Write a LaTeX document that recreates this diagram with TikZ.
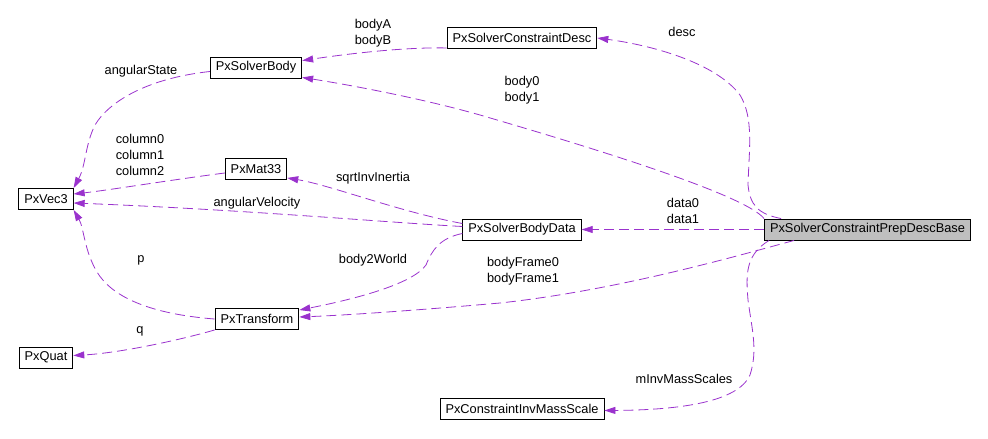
\documentclass[tikz,border=0pt]{standalone}
\usepackage{fontspec}
\setmainfont{Liberation Sans}
\usepackage{xcolor}
\usepackage{tikz}
\usetikzlibrary{arrows.meta}
\definecolor{relcol}{HTML}{9A32CD}

\begin{document}
\begin{tikzpicture}[x=1pt,y=-1pt,font=\fontsize{12.8}{16}\selectfont,
  cls/.style={draw,line width=0.9pt,rectangle,minimum height=21pt,inner xsep=5.5pt,inner ysep=0pt},
  rel/.style={relcol,line width=0.8pt,dash pattern=on 10pt off 5pt,-{Triangle[length=11pt,width=7pt]}},
  lbl/.style={align=center,inner sep=0pt}]

\useasboundingbox (0,0) rectangle (988,439);

% classes
\node[cls,fill=black!25] (base) at (867.5,229.5) {PxSolverConstraintPrepDescBase};
\node[cls] (cdesc) at (522,38) {PxSolverConstraintDesc};
\node[cls] (sbody) at (256,67.5) {PxSolverBody};
\node[cls] (vec) at (46,199) {PxVec3};
\node[cls] (mat) at (256,169) {PxMat33};
\node[cls] (sbd) at (522,229.5) {PxSolverBodyData};
\node[cls] (tr) at (257,319) {PxTransform};
\node[cls] (quat) at (46,357.5) {PxQuat};
\node[cls] (cims) at (522,408.5) {PxConstraintInvMassScale};

% relations
\draw[rel] ([xshift=17pt]base.north west) .. controls (758,214) and (750,205) .. (748,185)
  .. controls (749,150) and (754,118) .. (740,95) .. controls (715,62) and (650,45) .. (cdesc.east);
\draw[rel] (base.north west) .. controls (745,195) and (600,150) .. (480,115)
  .. controls (420,98) and (350,85) .. ([yshift=1pt]sbody.south east);
\draw[rel] ([yshift=1pt]cdesc.south west) .. controls (400,47) and (340,55) .. ([yshift=-4pt]sbody.north east);
\draw[rel] ([yshift=-4pt]sbody.west) .. controls (150,78) and (110,100) .. (95,125)
  .. controls (85,145) and (86,165) .. (vec.north east);
\draw[rel] ([yshift=-4pt]mat.west) .. controls (170,180) and (110,190) .. ([yshift=5pt]vec.east);
\draw[rel] ([yshift=3pt]sbd.west) .. controls (380,222) and (250,210) .. ([yshift=-4pt]vec.east);
\draw[rel] ([yshift=6pt]sbd.west) .. controls (400,212) and (330,185) .. ([yshift=2pt]mat.south east);
\draw[rel] (tr.west) .. controls (150,314) and (112,297) .. (97,272)
  .. controls (84,250) and (84,228) .. (vec.south east);
\draw[rel] ([yshift=-4pt]sbd.west) .. controls (440,238) and (432,250) .. (426,265)
  .. controls (412,285) and (350,300) .. ([yshift=-2pt]tr.north east);
\draw[rel] ([xshift=30pt]base.south west) .. controls (740,255) and (620,290) .. (500,303)
  .. controls (420,310) and (350,315) .. ([yshift=2pt]tr.east);
\draw[rel] (tr.south west) .. controls (180,340) and (120,353) .. ([yshift=2pt]quat.east);
\draw[rel] (base.west) -- (sbd.east);
\draw[rel] ([xshift=5pt]base.south west) .. controls (745,255) and (746,275) .. (748,300)
  .. controls (752,330) and (758,350) .. (750,375) .. controls (738,402) and (680,410) .. ([yshift=-2pt]cims.east);

% labels
\node[lbl] (ldesc) at (682,32) {desc};
\node[lbl] (lbody) at (522,90) {body0\\body1};
\node[lbl] (lbodyab) at (373,33.5) {bodyA\\bodyB};
\node[lbl] (lang) at (141,71) {angularState};
\node[lbl] (lcol) at (140,155) {column0\\column1\\column2};
\node[lbl] (lsqrt) at (373,178) {sqrtInvInertia};
\node[lbl] (lvel) at (257,203) {angularVelocity};
\node[lbl] (ldata) at (683,211) {data0\\data1};
\node[lbl] (lp) at (141,260) {p};
\node[lbl] (lb2w) at (373,260) {body2World};
\node[lbl] (lframe) at (523,271) {bodyFrame0\\bodyFrame1};
\node[lbl] (lq) at (140,331) {q};
\node[lbl] (lmass) at (684,379) {mInvMassScales};

\end{tikzpicture}
\end{document}
